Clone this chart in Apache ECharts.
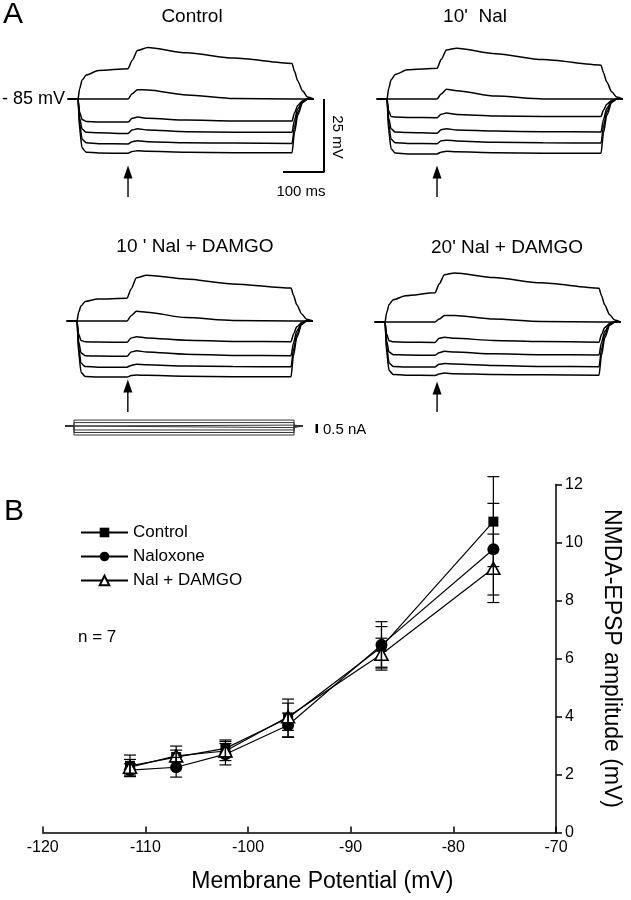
<!DOCTYPE html>
<html>
<head>
<meta charset="utf-8">
<title>NMDA-EPSP and DAMGO</title>
<script src="https://cdn.jsdelivr.net/npm/echarts@6/dist/echarts.min.js"></script>
<style>
  html, body { margin: 0; padding: 0; background: #fff; }
  #chart { width: 631px; height: 900px; }
</style>
</head>
<body>
<div id="chart"></div>
<script>
// ---- A: membrane voltage traces (mV) at shared time points (ms from step onset) ----
const traceTimes = [-25, 0, 4, 10, 20, 50, 122, 132, 145, 170, 265, 380, 522, 528, 536, 548, 560, 575];

const controlTraces = [
  [-85, -85, -81.5, -78.5, -76.8, -75.2, -74.6, -71.8, -68.4, -67.4, -69.2, -71.0, -72.8, -75.5, -78.8, -82.3, -84.3, -85],
  [-85, -85, -85, -85, -85, -85, -85, -83.2, -81.8, -81.9, -83.6, -84.8, -85, -85, -85, -85, -85, -85],
  [-85, -85, -89.5, -92, -92.7, -92.9, -92.9, -91.6, -91.2, -91.6, -92.2, -92.5, -92.5, -89.8, -87.2, -85.6, -85, -85],
  [-85, -85, -91.5, -95.3, -96.4, -96.6, -96.8, -95.6, -95.2, -95.6, -96.2, -96.4, -96.4, -92.2, -88.3, -85.8, -85, -85],
  [-85, -85, -93.5, -98.8, -100, -100.3, -100.4, -99.6, -99.3, -99.6, -100, -100.1, -100.2, -94.5, -89.5, -86, -85, -85],
  [-85, -85, -95.5, -101.8, -103.2, -103.5, -103.6, -103, -102.7, -102.9, -103.2, -103.4, -103.4, -96.5, -90.5, -86.2, -85, -85]
];
const nal10Traces = [
  [-85, -85, -81.5, -78.4, -76.6, -75, -74.5, -71.5, -68.2, -67.6, -69.5, -71.5, -73.4, -76, -79.2, -82.5, -84.3, -85],
  [-85, -85, -85, -85, -85, -85, -85, -83.3, -81.7, -82.2, -84, -85, -85, -85, -85, -85, -85, -85],
  [-85, -85, -89, -91, -91.2, -91.3, -91.4, -90.2, -89.8, -90.3, -90.8, -91, -91, -88.8, -86.8, -85.5, -85, -85],
  [-85, -85, -91.5, -95.2, -96.3, -96.5, -96.7, -95.5, -95.2, -95.6, -96, -96.2, -96.3, -92, -88.2, -85.8, -85, -85],
  [-85, -85, -93.5, -98.8, -100, -100.2, -100.3, -99.3, -99.1, -99.4, -99.8, -100, -100.1, -94.4, -89.4, -86, -85, -85],
  [-85, -85, -95.8, -102, -103.5, -103.8, -103.8, -103.2, -102.9, -103.1, -103.4, -103.6, -103.6, -96.6, -90.6, -86.2, -85, -85]
];
const nalDamgo10Traces = [
  [-85, -85, -82, -79.8, -78.3, -77.5, -77.2, -74, -70.2, -69.3, -70.6, -72.3, -73.7, -76.2, -79.4, -82.6, -84.4, -85],
  [-85, -85, -85, -85, -85, -85, -85, -83.2, -81.7, -82, -83.8, -84.8, -85, -85, -85, -85, -85, -85],
  [-85, -85, -89.5, -91.7, -92.1, -92.2, -92.3, -90.8, -90.4, -90.8, -91.6, -92, -92.1, -89.5, -87, -85.5, -85, -85],
  [-85, -85, -92, -96, -96.9, -97, -97.1, -95.6, -95.2, -95.6, -96.4, -96.8, -96.9, -92.5, -88.4, -85.8, -85, -85],
  [-85, -85, -94, -99.5, -100.6, -100.8, -100.8, -100.2, -99.8, -100, -100.4, -100.6, -100.7, -94.8, -89.6, -86, -85, -85],
  [-85, -85, -96, -102.6, -104, -104.2, -104.2, -103.7, -103.5, -103.6, -103.9, -104.1, -104.1, -96.8, -90.7, -86.2, -85, -85]
];
const nalDamgo20Traces = [
  [-85, -85, -81.8, -79, -77.4, -76, -75, -72, -68.8, -68.2, -69.8, -71.6, -73.4, -76, -79.2, -82.5, -84.3, -85],
  [-85, -85, -85, -85, -85, -85, -85, -84, -82.8, -82.8, -84, -84.8, -85, -85, -85, -85, -85, -85],
  [-85, -85, -89.2, -91.4, -91.8, -91.9, -92, -90.6, -90.2, -90.6, -91.3, -91.7, -91.9, -89.3, -86.9, -85.5, -85, -85],
  [-85, -85, -91.5, -95.3, -96.2, -96.3, -96.4, -95.5, -95, -95.3, -95.9, -96.2, -96.3, -92, -88.2, -85.8, -85, -85],
  [-85, -85, -93.5, -99, -100.2, -100.4, -100.4, -99.5, -99.2, -99.4, -99.9, -100.2, -100.3, -94.4, -89.4, -86, -85, -85],
  [-85, -85, -95.5, -101.6, -103, -103.2, -103.3, -102.8, -102.5, -102.7, -103, -103.1, -103.2, -96.4, -90.4, -86.1, -85, -85]
];

const panelTitles = ['Control', "10'  Nal", "10 ' Nal + DAMGO", "20' Nal + DAMGO"];
const stimTimes = [122, 122, 124, 127];      // arrow position (ms)
const arrowFrom = [-118.6, -118.6, -116.2, -115.8];
const arrowTo = [-110, -110, -107.3, -107.6];

// injected current steps (nA)
const stepCurrents = [0.33, 0.19, 0.05, -0.09, -0.22, -0.36, -0.5];

// ---- B: NMDA-EPSP amplitude vs membrane potential ----
const potentials = [-111.5, -107, -102.2, -96.1, -87, -76.1];
const controlAmp = [2.3, 2.6, 2.9, 3.95, 6.4, 10.72];
const controlErr = [0.37, 0.38, 0.29, 0.65, 0.7, 1.55];
const naloxoneAmp = [2.15, 2.25, 2.7, 3.7, 6.47, 9.77];
const naloxoneErr = [0.22, 0.34, 0.37, 0.42, 0.8, 1.58];
const nalDamgoAmp = [2.25, 2.64, 2.81, 3.99, 6.15, 9.11];
const nalDamgoErr = [0.27, 0.2, 0.33, 0.47, 0.55, 1.18];

const FONT = '"Liberation Sans", Arial, Helvetica, sans-serif';
const chart = echarts.init(document.getElementById('chart'));

// layout of the trace panels: px per ms / per mV, and where (0 ms, -85 mV) sits
const kx = 0.41, ky = 2.92;
const panelOrigins = [[78, 99], [387, 99], [77, 321], [385, 322]];
const panelT = [[-30, 610], [-30, 590], [-30, 590], [-30, 590]];
const vMin = -120, vMax = -60;
const allTraces = [controlTraces, nal10Traces, nalDamgo10Traces, nalDamgo20Traces];

const grids = [], xAxes = [], yAxes = [], series = [];
const hidden = { axisLine: { show: false }, axisTick: { show: false }, axisLabel: { show: false }, splitLine: { show: false } };

panelOrigins.forEach(([ox, oy], i) => {
  const [tMin, tMax] = panelT[i];
  grids.push({ left: ox + tMin * kx, top: oy - (vMax + 85) * ky, width: (tMax - tMin) * kx, height: (vMax - vMin) * ky });
  xAxes.push(Object.assign({ type: 'value', gridIndex: i, min: tMin, max: tMax }, hidden));
  yAxes.push(Object.assign({ type: 'value', gridIndex: i, min: vMin, max: vMax }, hidden));
  allTraces[i].forEach(tr => {
    series.push({
      type: 'line', xAxisIndex: i, yAxisIndex: i, silent: true,
      data: traceTimes.map((t, k) => [t, tr[k]]),
      symbol: 'none', smooth: 0.25, smoothMonotone: 'x',
      lineStyle: { color: '#000', width: 1.5 }
    });
  });
  // stimulus arrow
  series.push({
    type: 'line', xAxisIndex: i, yAxisIndex: i, silent: true,
    data: [
      { value: [stimTimes[i], arrowFrom[i]], symbol: 'none' },
      { value: [stimTimes[i], arrowTo[i]], symbol: 'triangle', symbolSize: [9, 13] }
    ],
    showSymbol: true, lineStyle: { color: '#000', width: 1.4 }, itemStyle: { color: '#000' }
  });
});

// scale bar 100 ms / 25 mV in the control panel
series.push({
  type: 'line', xAxisIndex: 0, yAxisIndex: 0, silent: true, symbol: 'none',
  data: [[500, -110], [600, -110], [600, -85]],
  lineStyle: { color: '#000', width: 2 }
});

// current panel (grid 4)
const kxI = 0.4215, kyI = 18;
const iOrigin = [74, 426];
grids.push({ left: iOrigin[0] - 30 * kxI, top: iOrigin[1] - kyI, width: 630 * kxI, height: 2 * kyI });
xAxes.push(Object.assign({ type: 'value', gridIndex: 4, min: -30, max: 600 }, hidden));
yAxes.push(Object.assign({ type: 'value', gridIndex: 4, min: -1, max: 1 }, hidden));
stepCurrents.forEach(c => {
  series.push({
    type: 'line', xAxisIndex: 4, yAxisIndex: 4, silent: true, symbol: 'none',
    data: [[-21, 0], [0, 0], [0, c], [522, c], [522, 0], [543, 0]],
    lineStyle: { color: '#333', width: 1 }
  });
});
series.push({
  type: 'line', xAxisIndex: 4, yAxisIndex: 4, silent: true, symbol: 'none',
  data: [[576, 0.11], [576, -0.39]],
  lineStyle: { color: '#000', width: 2.5 }
});

// panel B (grid 5)
grids.push({ left: 42.7, top: 484.5, width: 513.3, height: 348 });
xAxes.push({
  type: 'value', gridIndex: 5, min: -120, max: -70, interval: 10,
  name: 'Membrane Potential (mV)', nameLocation: 'middle', nameGap: 38,
  nameTextStyle: { fontFamily: FONT, fontSize: 23, color: '#000', padding: [0, 0, 0, 46] },
  axisLine: { lineStyle: { color: '#000', width: 1.5 } },
  axisTick: { inside: true, length: 6, lineStyle: { color: '#000', width: 1.5 } },
  axisLabel: { fontFamily: FONT, fontSize: 16, color: '#000', margin: 7 },
  splitLine: { show: false }
});
yAxes.push({
  type: 'value', gridIndex: 5, min: 0, max: 12, interval: 2, position: 'right',
  name: 'NMDA-EPSP amplitude (mV)', nameLocation: 'middle', nameGap: 44, nameRotate: -90,
  nameTextStyle: { fontFamily: FONT, fontSize: 23, color: '#000' },
  axisLine: { show: true, lineStyle: { color: '#000', width: 1.5 } },
  axisTick: { show: true, length: 6, lineStyle: { color: '#000', width: 1.5 } },
  axisLabel: { fontFamily: FONT, fontSize: 16, color: '#000', margin: 9 },
  splitLine: { show: false }
});

const groups = [
  { name: 'Control', amp: controlAmp, err: controlErr, symbol: 'rect', size: 10, item: { color: '#000' } },
  { name: 'Naloxone', amp: naloxoneAmp, err: naloxoneErr, symbol: 'circle', size: 12, item: { color: '#000' } },
  { name: 'Nal + DAMGO', amp: nalDamgoAmp, err: nalDamgoErr, symbol: 'triangle', size: [13, 12], item: { color: '#fff', borderColor: '#000', borderWidth: 1.6 } }
];
groups.forEach((g, gi) => {
  series.push({
    type: 'line', name: g.name, xAxisIndex: 5, yAxisIndex: 5,
    data: potentials.map((x, i) => [x, g.amp[i]]),
    symbol: g.symbol, symbolSize: g.size, showSymbol: true,
    lineStyle: { color: '#000', width: 1.2 }, itemStyle: g.item, z: 3 + gi
  });
  series.push({
    type: 'custom', name: g.name + ' SEM', xAxisIndex: 5, yAxisIndex: 5, z: 8,
    data: potentials.map((x, i) => [x, g.amp[i] - g.err[i], g.amp[i] + g.err[i]]),
    encode: { x: 0, y: [1, 2] },
    renderItem: (params, api) => {
      const lo = api.coord([api.value(0), api.value(1)]);
      const hi = api.coord([api.value(0), api.value(2)]);
      const hw = 6;
      const st = { stroke: '#000', lineWidth: 1.2 };
      return {
        type: 'group', children: [
          { type: 'line', shape: { x1: lo[0], y1: lo[1], x2: hi[0], y2: hi[1] }, style: st },
          { type: 'line', shape: { x1: lo[0] - hw, y1: lo[1], x2: lo[0] + hw, y2: lo[1] }, style: st },
          { type: 'line', shape: { x1: hi[0] - hw, y1: hi[1], x2: hi[0] + hw, y2: hi[1] }, style: st }
        ]
      };
    }
  });
});

function label(text, x, y, size, align, extra) {
  return Object.assign({
    type: 'text', x: x, y: y, silent: true,
    style: { text: text, x: 0, y: 0, fill: '#000', font: size + 'px ' + FONT, align: align, textAlign: align, verticalAlign: 'middle', textVerticalAlign: 'middle' }
  }, extra || {});
}
const titlePos = [[192, 17], [475, 17], [195, 247], [507, 248]];
const graphics = [
  label('A', 3, 15, 30, 'left'),
  label('B', 4, 512, 30, 'left'),
  label('- 85 mV', 2, 99, 18, 'left'),
  label('25 mV', 337, 137, 15, 'center', { rotation: -Math.PI / 2 }),
  label('100 ms', 301, 192, 15, 'center'),
  label('0.5 nA', 323, 430, 15, 'left'),
  label('n = 7', 78, 637, 17, 'left')
];
panelTitles.forEach((t, i) => graphics.push(label(t, titlePos[i][0], titlePos[i][1], 19, 'center')));

chart.setOption({
  backgroundColor: '#fff',
  animation: false,
  grid: grids,
  xAxis: xAxes,
  yAxis: yAxes,
  legend: {
    data: ['Control', 'Naloxone', 'Nal + DAMGO'],
    orient: 'vertical', left: 80, top: 524, padding: 0,
    itemWidth: 47, itemHeight: 12, itemGap: 7,
    selectedMode: false,
    textStyle: { fontFamily: FONT, fontSize: 17, color: '#000' }
  },
  graphic: graphics,
  series: series
});
</script>
</body>
</html>
